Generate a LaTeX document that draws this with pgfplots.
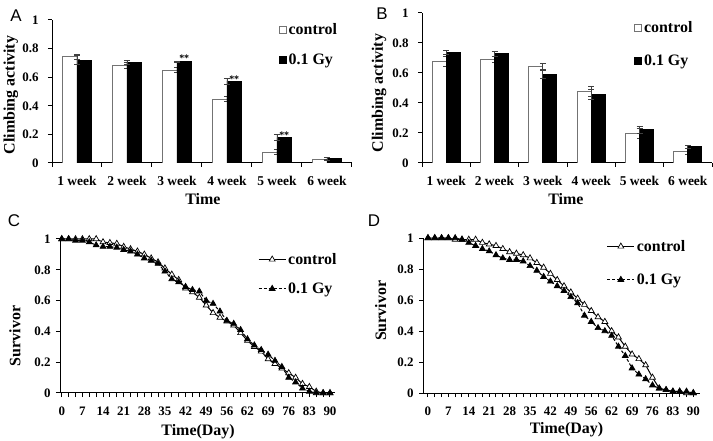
\documentclass[border=0pt]{standalone}
\usepackage{fontspec}
\setmainfont{Liberation Serif}
\newfontfamily\panelfont{Liberation Sans}
\usepackage{pgfplots}
\usepackage{pgfplotstable}
\pgfplotsset{compat=1.18}
\newcommand\fs[1]{\fontsize{#1}{#1}\selectfont}

\pgfplotstableread{
x c ce g ge
1 0.745 0.018 0.720 0.032
2 0.682 0.022 0.705 0.012
3 0.650 0.018 0.708 0.006
4 0.446 0.017 0.572 0.020
5 0.076 0.017 0.178 0.020
6 0.024 0.003 0.030 0.010
}\dataA

\pgfplotstableread{
x c ce g ge
1 0.678 0.033 0.737 0.013
2 0.690 0.018 0.727 0.018
3 0.641 0.020 0.591 0.025
4 0.475 0.033 0.458 0.036
5 0.198 0.036 0.222 0.025
6 0.078 0.022 0.109 0.010
}\dataB

\pgfplotstableread{
x c g
0 1.00 1.00
2.333 1.00 1.00
4.667 1.00 0.99
7 1.00 0.99
9.333 1.00 0.98
11.667 1.00 0.96
14 0.98 0.95
16.333 0.975 0.95
18.667 0.97 0.945
21 0.95 0.93
23.333 0.935 0.92
25.667 0.92 0.90
28 0.90 0.875
30.333 0.875 0.86
32.667 0.85 0.84
35 0.81 0.79
37.333 0.77 0.74
39.667 0.735 0.72
42 0.68 0.69
44.333 0.655 0.67
46.667 0.62 0.66
49 0.57 0.60
51.333 0.52 0.58
53.667 0.49 0.53
56 0.465 0.47
58.333 0.44 0.45
60.667 0.39 0.41
63 0.34 0.35
65.333 0.30 0.31
67.667 0.27 0.28
70 0.22 0.25
72.333 0.19 0.21
74.667 0.16 0.17
77 0.13 0.10
79.333 0.10 0.07
81.667 0.06 0.03
84 0.04 0.01
86.333 0.01 0.00
88.667 0.00 0.00
91 0.00 0.00
}\dataC

\pgfplotstableread{
x c g
0 1.00 1.00
2.333 1.00 1.00
4.667 1.00 1.00
7 1.00 1.00
9.333 0.99 1.00
11.667 0.99 0.99
14 0.99 0.97
16.333 0.99 0.95
18.667 0.97 0.93
21 0.96 0.915
23.333 0.95 0.89
25.667 0.93 0.87
28 0.91 0.86
30.333 0.90 0.86
32.667 0.89 0.85
35 0.87 0.82
37.333 0.84 0.79
39.667 0.81 0.75
42 0.77 0.72
44.333 0.73 0.69
46.667 0.69 0.66
49 0.65 0.62
51.333 0.61 0.58
53.667 0.57 0.50
56 0.53 0.46
58.333 0.49 0.42
60.667 0.46 0.40
63 0.40 0.37
65.333 0.36 0.30
67.667 0.30 0.24
70 0.25 0.16
72.333 0.22 0.12
74.667 0.18 0.09
77 0.10 0.05
79.333 0.03 0.03
81.667 0.02 0.02
84 0.01 0.01
86.333 0.01 0.01
88.667 0.00 0.01
91 0.00 0.00
}\dataD

\pgfplotsset{
  common/.style={
    scale only axis,
    axis lines*=left,
    axis line style={line width=1bp,-},
    ymin=0, ymax=1,
    ytick={0,0.2,0.4,0.6,0.8,1},
    /pgf/number format/assume math mode=true,
    tick label style={font=\bfseries\fs{13}},
    tick style={black, line width=1bp},
    tick align=outside,
    major tick length=4bp,
    minor tick length=4bp,
    xtick pos=bottom, ytick pos=left,
    label style={font=\bfseries\fs{16}},
    legend cell align=left,
  },
  barax/.style={
    common,
    yticklabel style={xshift=-6bp},
    xmin=0.5, xmax=6.5,
    xtick={1,...,6},
    xticklabels={1 week,2 week,3 week,4 week,5 week,6 week},
    xticklabel style={font=\bfseries\fs{13.5}, yshift=-6bp},
    major x tick style={draw=none},
    minor xtick={0.5,1.5,...,6.5},
    xlabel={Time},
    ylabel={Climbing activity},
    legend style={draw=none, fill=none, font=\bfseries\fs{16}, inner sep=0pt, anchor=north west},
  },
  ctrlbar/.style={ybar, bar width=0.29, bar shift=-0.145, draw=black!55, fill=white, line width=0.9bp, forget plot,
    error bars/.cd, y dir=both, y explicit,
    error bar style={black!75, line width=0.7bp},
    error mark options={rotate=90, mark size=3bp, line width=0.7bp, black!75}},
  gybar/.style={ybar, bar width=0.29, bar shift=0.145, draw=black, fill=black, line width=0.9bp, forget plot,
    error bars/.cd, y dir=both, y explicit,
    error bar style={black!75, line width=0.7bp},
    error mark options={rotate=90, mark size=3bp, line width=0.7bp, black!75}},
  survax/.style={
    common,
    yticklabel style={xshift=-2bp},
    clip=false,
    xtick={0,7,...,91},
    xticklabels={0,7,14,21,28,35,42,49,56,62,69,76,83,90},
    xticklabel style={font=\bfseries\fs{13}, yshift=-6bp},
    minor x tick num=2,
    xlabel={Time(Day)},
    ylabel={Survivor},
    legend style={draw=none, fill=none, font=\bfseries\fs{16}, inner sep=0pt, anchor=west},
    legend image code/.code={\draw[mark repeat=2, mark phase=2, #1] plot coordinates {(0bp,0bp) (13.5bp,0bp) (27bp,0bp)};},
  },
  ctrlline/.style={black, line width=1bp, mark=triangle*, mark size=3.4bp, mark options={solid, fill=white, line width=0.7bp}},
  gyline/.style={black, line width=1bp, dash pattern=on 3bp off 2bp, mark=triangle*, mark size=3.4bp, mark options={solid, fill=black, line width=0.7bp}},
}

\begin{document}
\begin{tikzpicture}
\path[use as bounding box] (0,0) rectangle (713bp,441bp);

% ---------------- A
\begin{axis}[barax, at={(52bp,278bp)}, anchor=south west, width=300bp, height=143bp,
  xlabel style={at={(axis description cs:0.503,-0.252)}, anchor=center},
  ylabel style={at={(axis description cs:-0.137,0.476)}, anchor=center},
  legend style={at={(axis description cs:0.755,0.99)}, row sep=14bp}]
\addplot[ctrlbar] table[x=x, y=c, y error=ce] {\dataA};
\addplot[gybar] table[x=x, y=g, y error=ge] {\dataA};
\addlegendimage{legend image code/.code={\draw[draw=black!55, fill=white, line width=0.9bp] (0bp,-3.5bp) rectangle (7bp,3.5bp);}}
\addlegendentry{control}
\addlegendimage{legend image code/.code={\draw[draw=black, fill=black, line width=0.9bp] (0bp,-3.5bp) rectangle (7bp,3.5bp);}}
\addlegendentry{0.1 Gy}
\node[font=\bfseries\fs{10}, anchor=base, inner sep=0pt] at (axis cs:3.145,0.709) {**};
\node[font=\bfseries\fs{10}, anchor=base, inner sep=0pt] at (axis cs:4.145,0.565) {**};
\node[font=\bfseries\fs{10}, anchor=base, inner sep=0pt] at (axis cs:5.145,0.172) {**};
\end{axis}

% ---------------- B
\begin{axis}[barax, at={(422bp,278bp)}, anchor=south west, width=290bp, height=150bp,
  xlabel style={at={(axis description cs:0.496,-0.24)}, anchor=center},
  ylabel style={at={(axis description cs:-0.148,0.467)}, anchor=center},
  legend style={at={(axis description cs:0.731,0.96)}, row sep=17bp}]
\addplot[ctrlbar] table[x=x, y=c, y error=ce] {\dataB};
\addplot[gybar] table[x=x, y=g, y error=ge] {\dataB};
\addlegendimage{legend image code/.code={\draw[draw=black!55, fill=white, line width=0.9bp] (0bp,-3.5bp) rectangle (7bp,3.5bp);}}
\addlegendentry{control}
\addlegendimage{legend image code/.code={\draw[draw=black, fill=black, line width=0.9bp] (0bp,-3.5bp) rectangle (7bp,3.5bp);}}
\addlegendentry{0.1 Gy}
\end{axis}

% ---------------- C
\begin{axis}[survax, at={(60bp,48bp)}, anchor=south west, width=275bp, height=154bp,
  xmin=-0.6, xmax=92.7,
  xlabel style={at={(axis description cs:0.502,-0.25)}, anchor=center},
  ylabel style={at={(axis description cs:-0.164,0.37)}, anchor=center},
  legend style={at={(axis description cs:0.72,0.773)}, row sep=13bp}]
\addplot[ctrlline] table[x=x, y=c] {\dataC};
\addlegendentry{control}
\addplot[gyline] table[x=x, y=g] {\dataC};
\addlegendentry{0.1 Gy}
\end{axis}

% ---------------- D
\begin{axis}[survax, at={(423bp,48bp)}, anchor=south west, width=277bp, height=155bp,
  xmin=-1.7, xmax=93.3,
  xlabel style={at={(axis description cs:0.518,-0.235)}, anchor=center},
  ylabel style={at={(axis description cs:-0.153,0.53)}, anchor=center},
  legend style={at={(axis description cs:0.663,0.839)}, row sep=17bp}]
\addplot[ctrlline] table[x=x, y=c] {\dataD};
\addlegendentry{control}
\addplot[gyline] table[x=x, y=g] {\dataD};
\addlegendentry{0.1 Gy}
\end{axis}

\node[font=\panelfont\fs{17}] at (16bp,425bp) {A};
\node[font=\panelfont\fs{17}] at (382bp,427bp) {B};
\node[font=\panelfont\fs{17}] at (14bp,220bp) {C};
\node[font=\panelfont\fs{17}] at (374bp,220bp) {D};
\end{tikzpicture}
\end{document}
